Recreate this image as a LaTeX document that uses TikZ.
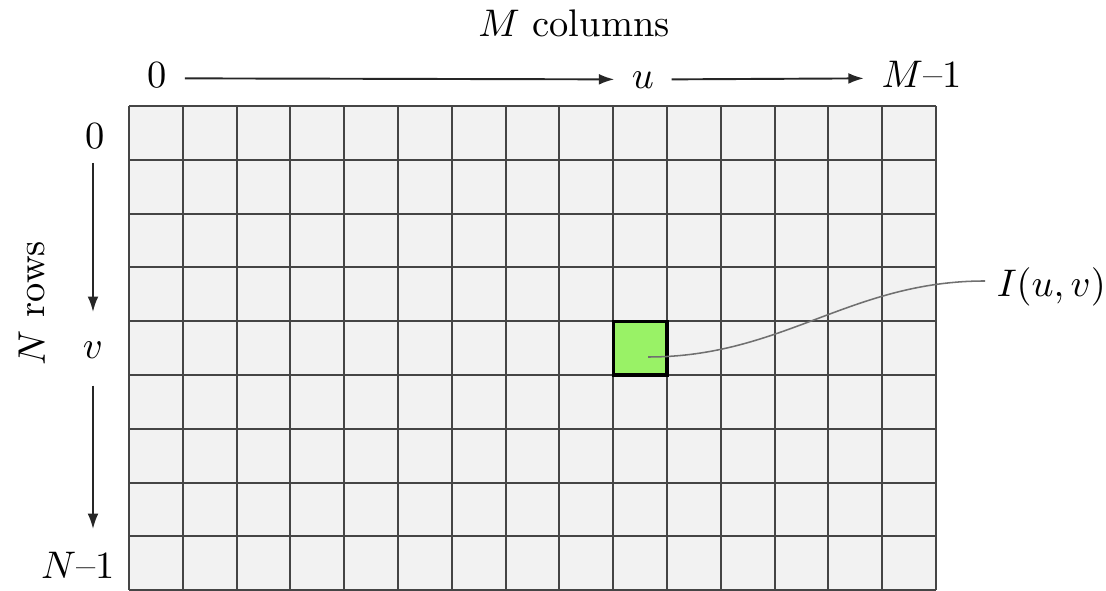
\documentclass[tikz,border=0pt]{standalone}
\usetikzlibrary{arrows.meta}
\definecolor{cellgray}{HTML}{F2F2F2}
\definecolor{gridline}{HTML}{454545}
\definecolor{pixgreen}{HTML}{99F266}
\definecolor{curvegray}{HTML}{707070}
\begin{document}
\begin{tikzpicture}[x=0.26pt,y=-0.26pt,
  arr/.style={-{Latex[length=4pt,width=2.8pt]}, line width=0.5pt, draw=black!85},
  toplab/.style={inner xsep=4.4pt, inner ysep=0pt, text height=0.5em, text depth=0pt, anchor=base},
  gridl/.style={line width=0.5pt, draw=gridline},
  curve/.style={line width=0.4pt, draw=curvegray},
  pixel/.style={line width=0.8pt, draw=black, fill=pixgreen}]
\useasboundingbox[fill=white] (0,0) rectangle (1106,591);
% grid
\fill[cellgray] (129,106) rectangle (936,590.2);
\foreach \i in {0,...,15} \draw[gridl] ({129+\i*53.8},106) -- ({129+\i*53.8},590.2);
\foreach \j in {0,...,9} \draw[gridl] (129,{106+\j*53.8}) -- (936,{106+\j*53.8});
\draw[pixel] (613.2,321.2) rectangle ++(53.8,53.8);
% top labels
\node[anchor=base] (mc) at (574,37) {$M$ columns};
\node[toplab] (t0) at (157.5,88) {0};
\node[toplab] (tu) at (643,89) {$u$};
\node[toplab] (tM) at (921.5,88) {$M$--1};
\draw[arr] (t0.east) -- (tu.west);
\draw[arr] (tu.east) -- (tM.west);
% left labels
\node (l0) at (95,136) {0};
\node (lv) at (93,350) {$v$};
\node (lN) at (78,565) {$N$--1};
\node[rotate=90] (nr) at (32,303) {$N$ rows};
\draw[arr, shorten >=4.2pt] (l0.south -| lv.north) -- (lv.north);
\draw[arr, shorten <=3.6pt, shorten >=2.4pt] (lv.south) -- (lN.north -| lv.south);
% pixel label
\coordinate (pin) at (648,357);
\node[anchor=base west, inner sep=0pt] (Iuv) at (996,297) {$I(u,v)$};
\coordinate (iend) at (985,281);
\draw[curve] (pin) to[out=0,in=180] (iend);
\end{tikzpicture}
\end{document}
